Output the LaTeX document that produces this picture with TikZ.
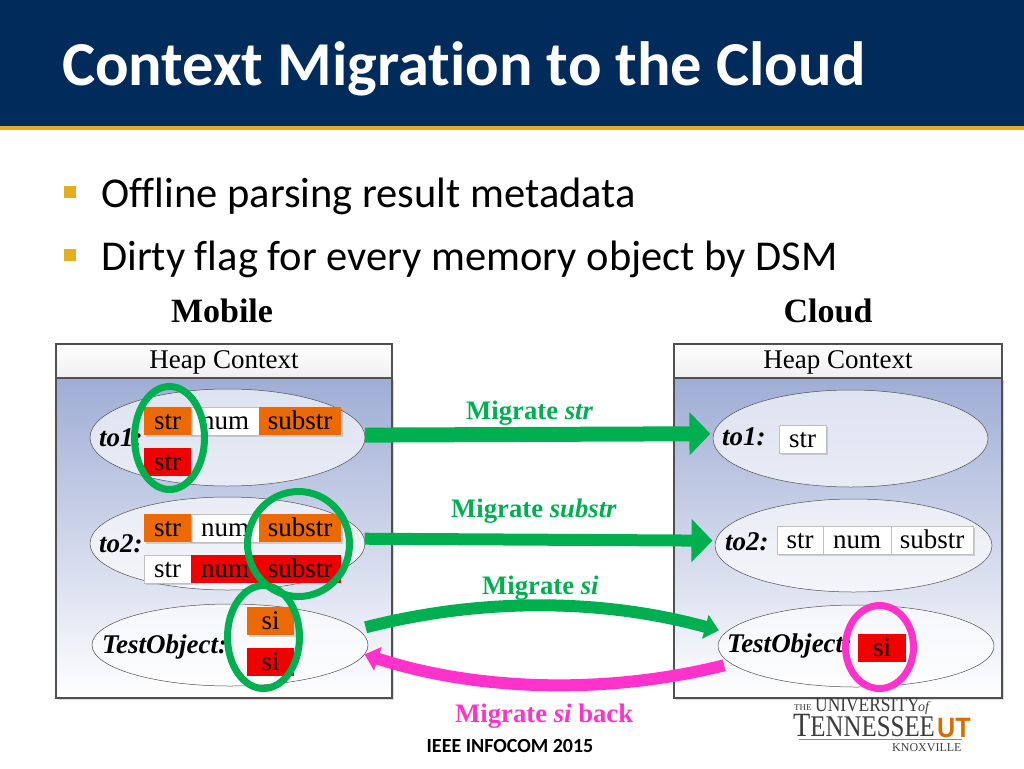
\documentclass[tikz,border=0pt]{standalone}
\usepackage{fontspec}
\setmainfont{Liberation Serif}
\newfontfamily\slidefont[Ligatures=NoCommon]{Carlito}
\newfontfamily\logofont{Liberation Sans}
\usetikzlibrary{shapes.geometric,arrows.meta,shadows}
\definecolor{barblue}{HTML}{002B5B}
\definecolor{bargold}{HTML}{E5AE1F}
\definecolor{gogreen}{HTML}{00B050}
\definecolor{gopink}{HTML}{FF33CC}
\definecolor{dirtyorange}{HTML}{EC6A05}
\definecolor{dirtyred}{HTML}{F00000}
\definecolor{panelblue}{HTML}{9FADD5}
\definecolor{panelgray}{HTML}{505050}
\definecolor{logogray}{HTML}{3C3C3C}
\begin{document}
\begin{tikzpicture}[x=1pt,y=-1pt,
    softshadow/.style={drop shadow={shadow xshift=1.5pt,shadow yshift=-1.5pt,opacity=0.3}},
    panelbody/.style={draw=panelgray,line width=2.5pt,top color=panelblue,bottom color=white,inner sep=0pt,minimum width=#1,minimum height=320pt,softshadow},
    panelhead/.style={draw=panelgray,line width=2.5pt,top color=white,bottom color=black!6,inner sep=0pt,minimum width=#1,minimum height=34pt,text height=18pt,text depth=4pt,font=\fontsize{27}{30}\selectfont},
    objoval/.style={ellipse,draw=panelgray,line width=0.5pt,fill=white,fill opacity=0.65,inner sep=0pt,minimum width=#1},
    objname/.style={anchor=base west,inner sep=0pt,font=\fontsize{27}{30}\selectfont\bfseries\itshape},
    cellbox/.style={inner sep=0pt,minimum height=28pt,text height=20pt,text depth=4pt,font=\fontsize{27}{30}\selectfont},
    cleancell/.style={cellbox,fill=white,draw=black!25,line width=0.5pt,softshadow},
    ocell/.style={cellbox,fill=dirtyorange,softshadow},
    rcell/.style={cellbox,fill=dirtyred},
    ring/.style={ellipse,draw=#1,line width=7pt,inner sep=0pt},
    gotext/.style={anchor=base west,inner sep=0pt,text=#1,font=\fontsize{26.7}{30}\selectfont\bfseries},
    goarrow/.style={draw=#1,-{Triangle[length=21pt,width=42pt]}},
    bulletbox/.style={fill=bargold,inner sep=0pt,minimum size=12pt},
    bullettext/.style={anchor=base west,inner sep=0pt,font=\slidefont\fontsize{42.5}{46}\selectfont}]
    \useasboundingbox (0,0) rectangle (1024,768);

    % Barra de titulo
    \fill[barblue] (0,0) rectangle (1024,126);
    \fill[bargold] (0,126) rectangle (1024,130);
    \node[anchor=base west,inner sep=0pt,text=white,font=\slidefont\bfseries\fontsize{62.5}{66}\selectfont] (title) at (62,85) {Context Migration to the Cloud};

    % Puntos
    \node[bulletbox] (dot1) at (70,192) {};
    \node[bulletbox] (dot2) at (70,255) {};
    \node[bullettext] (line1) at (101,207) {Offline parsing result metadata};
    \node[bullettext] (line2) at (101,270) {Dirty flag for every memory object by DSM};

    % Paneles
    \node[font=\fontsize{34}{38}\selectfont\bfseries,inner sep=0pt] (mobile) at (222,311) {Mobile};
    \node[font=\fontsize{34}{38}\selectfont\bfseries,inner sep=0pt] (cloud) at (828,311) {Cloud};
    \node[panelbody=336pt] (mobbody) at (224,538) {};
    \node[panelbody=328pt] (cldbody) at (838,538) {};
    \node[panelhead=336pt] (mobhead) at (224,361) {Heap Context};
    \node[panelhead=328pt] (cldhead) at (838,361) {Heap Context};

    % Elipses
    \node[objoval=275pt,minimum height=97pt] (mob1) at (227.5,437.5) {};
    \node[objoval=275pt,minimum height=93pt] (mob2) at (227.5,543.5) {};
    \node[objoval=276pt,minimum height=82pt] (mob3) at (230,645) {};
    \node[objoval=275pt,minimum height=97pt] (cld1) at (850.5,438.5) {};
    \node[objoval=277pt,minimum height=93pt] (cld2) at (853.5,545.5) {};
    \node[objoval=276pt,minimum height=82pt] (cld3) at (856,646) {};

    % Celdas del movil
    \node[cleancell,minimum width=68pt] (a2) at (225,421) {num};
    \node[ocell,minimum width=47pt] (a1) at (167.5,421) {str};
    \node[ocell,minimum width=82pt] (a3) at (300,421) {substr};
    \node[rcell,minimum width=47pt] (a4) at (167.5,462) {str};
    \node[cleancell,minimum width=68pt] (b2) at (225,528) {num};
    \node[ocell,minimum width=47pt] (b1) at (167.5,528) {str};
    \node[ocell,minimum width=82pt] (b3) at (300,528) {substr};
    \node[cleancell,minimum width=47pt] (b4) at (167.5,569) {str};
    \node[rcell,minimum width=68pt] (b5) at (225,569) {num};
    \node[rcell,minimum width=82pt] (b6) at (300,569) {substr};
    \node[ocell,minimum width=47pt] (c1) at (270.5,621) {si};
    \node[rcell,minimum width=47pt] (c2) at (270.5,662) {si};

    % Celdas de la nube
    \node[cleancell,minimum width=47pt] (d1) at (802.5,439.5) {str};
    \node[cleancell,minimum width=46pt] (e1) at (800,540) {str};
    \node[cleancell,minimum width=68pt] (e2) at (857,540) {num};
    \node[cleancell,minimum width=82pt] (e3) at (932,540) {substr};
    \node[rcell,minimum width=48pt] (f1) at (882,648) {si};

    % Nombres
    \node[objname] (n1) at (99,446) {to1:};
    \node[objname] (n2) at (99,552) {to2:};
    \node[objname] (n3) at (102,653) {TestObject:};
    \node[objname] (n4) at (722,445) {to1:};
    \node[objname] (n5) at (725,550) {to2:};
    \node[objname] (n6) at (727,652) {TestObject:};

    % Anillos
    \node[ring=gogreen,minimum width=70pt,minimum height=103pt] (ring1) at (169.5,438) {};
    \node[ring=gogreen,minimum width=102pt,minimum height=105pt] (ring2) at (298.5,544) {};
    \node[ring=gogreen,minimum width=72pt,minimum height=103pt] (ring3) at (263.5,637) {};
    \node[ring=gopink,minimum width=68pt,minimum height=83pt] (ring4) at (879.5,647) {};

    % Flechas
    \draw[goarrow=gogreen,line width=15pt,shorten >=3pt] (mob1.1.5) -- (cld1.178);
    \draw[goarrow=gogreen,line width=12pt,shorten >=3pt] (mob2.2) -- (cld2.178);
    \draw[draw=gogreen,line width=12pt,-{Triangle[length=14pt,width=24pt]},shorten <=8pt,shorten >=7pt] (mob3.7) .. controls (480,598) and (600,598) .. (cld3.174);
    \draw[draw=gopink,line width=12pt,-{Triangle[length=14pt,width=24pt]},shorten <=7pt] (cld3.188) .. controls (610,694) and (480,692) .. (mob3.-4);

    % Etiquetas de flechas
    \node[gotext=gogreen] (m1) at (466,419) {Migrate \textit{str}};
    \node[gotext=gogreen] (m2) at (451,517) {Migrate \textit{substr}};
    \node[gotext=gogreen] (m3) at (482,594) {Migrate \textit{si}};
    \node[gotext=gopink] (m4) at (455,722) {Migrate \textit{si} back};

    % Pie y logo
    \node[inner sep=0pt,font=\slidefont\bfseries\fontsize{20}{24}\selectfont] (foot) at (510,746) {IEEE INFOCOM 2015};
    \node[anchor=base west,inner sep=0pt,text=logogray,font=\fontsize{9}{10}\selectfont] (lgA) at (794,710) {THE};
    \node[anchor=base west,inner sep=0pt,text=logogray,font=\fontsize{20}{22}\selectfont] (lgB) at (815,711) {\scalebox{.87}[1]{UNIVERSITY}};
    \node[anchor=base west,inner sep=0pt,text=logogray,font=\fontsize{14}{16}\selectfont\itshape] (lgC) at (918,711) {of};
    \node[anchor=base west,inner sep=0pt,text=logogray,font=\fontsize{30}{32}\selectfont] (lgD) at (793,736) {\scalebox{.83}[1]{{\fontsize{34}{36}\selectfont T}ENNESSEE}};
    \node[anchor=base west,inner sep=0pt,text=orange!85!black,font=\logofont\bfseries\fontsize{28}{30}\selectfont] (lgE) at (937,737) {\scalebox{.9}[1]{UT}};
    \fill[logogray!60] (799,738.5) rectangle (962,740);
    \node[anchor=base west,inner sep=0pt,text=logogray,font=\fontsize{12}{13}\selectfont] (lgF) at (892,751) {KNOXVILLE};
\end{tikzpicture}
\end{document}
